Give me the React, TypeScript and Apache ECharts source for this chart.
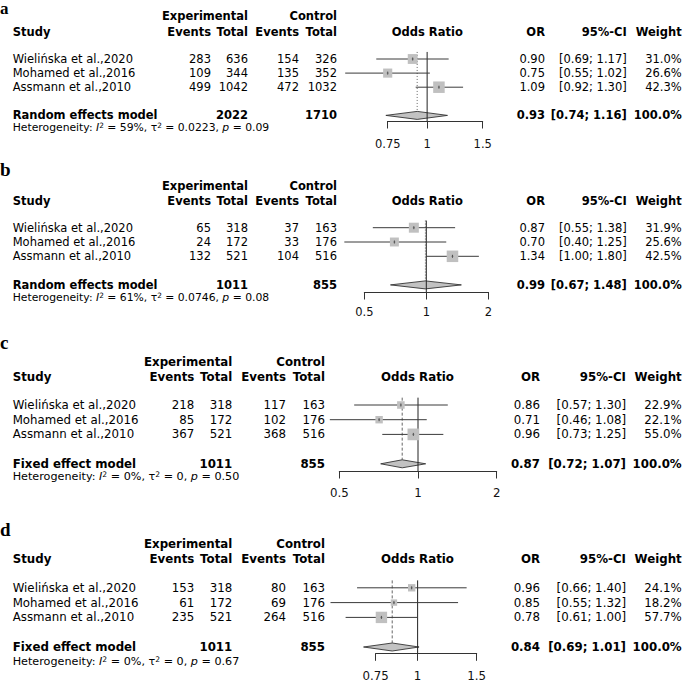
import React, { useEffect, useRef } from 'react';
import * as echarts from 'echarts';

// ---------------- data ----------------
const studies = ['Wielińska et al.,2020', 'Mohamed et al.,2016', 'Assmann et al.,2010'];
const panelLetters = ['a', 'b', 'c', 'd'];
const modelLabels = ['Random effects model', 'Random effects model', 'Fixed effect model', 'Fixed effect model'];
const expEvents = [[283, 109, 499], [65, 24, 132], [218, 85, 367], [153, 61, 235]];
const expTotal = [[636, 344, 1042], [318, 172, 521], [318, 172, 521], [318, 172, 521]];
const ctrlEvents = [[154, 135, 472], [37, 33, 104], [117, 102, 368], [80, 69, 264]];
const ctrlTotal = [[326, 352, 1032], [163, 176, 516], [163, 176, 516], [163, 176, 516]];
const oddsRatio = [[0.90, 0.75, 1.09], [0.87, 0.70, 1.34], [0.86, 0.71, 0.96], [0.96, 0.85, 0.78]];
const ciLower = [[0.69, 0.55, 0.92], [0.55, 0.40, 1.00], [0.57, 0.46, 0.73], [0.66, 0.55, 0.61]];
const ciUpper = [[1.17, 1.02, 1.30], [1.38, 1.25, 1.80], [1.30, 1.08, 1.25], [1.40, 1.32, 1.00]];
const weights = [[31.0, 26.6, 42.3], [31.9, 25.6, 42.5], [22.9, 22.1, 55.0], [24.1, 18.2, 57.7]];
const pooledOR = [0.93, 0.99, 0.87, 0.84];
const pooledLower = [0.74, 0.67, 0.72, 0.69];
const pooledUpper = [1.16, 1.48, 1.07, 1.01];
const totalExp = [2022, 1011, 1011, 1011];
const totalCtrl = [1710, 855, 855, 855];
const hetI2 = ['59%', '61%', '0%', '0%'];
const hetTau2 = ['0.0223', '0.0746', '0', '0'];
const hetP = ['0.09', '0.08', '0.50', '0.67'];
const tickValues = [[0.75, 1, 1.5], [0.5, 1, 2], [0.5, 1, 2], [0.75, 1, 1.5]];
const tickLabels = [['0.75', '1', '1.5'], ['0.5', '1', '2'], ['0.5', '1', '2'], ['0.75', '1', '1.5']];

// ---------------- layout (pixels) ----------------
const colsAB = { study: 12.7, expE: 211, expT: 248, ctrlE: 299, ctrlT: 337, orHead: 427.3, or: 545, ci: 626.7, w: 681.7 };
const colsCD = { study: 12.7, expE: 194.3, expT: 232.3, ctrlE: 286, ctrlT: 325, orHead: 417.5, or: 540, ci: 626, w: 681.7 };
const layouts = [
  { letterY: 8.5, head1: 16, head2: 31.7, rowTop: 59, step: 14.1, axisY: 121, hetY: 127.7, tickLabelY: 144, plotLeft: 387.7, plotWidth: 95, font: 11.5, hetFont: 10.8, cols: colsAB, squareK: 1.77, dash: [1, 2] },
  { letterY: 169.5, head1: 186, head2: 200.7, rowTop: 227.7, step: 14.3, axisY: 292, hetY: 297.7, tickLabelY: 312.3, plotLeft: 364.3, plotWidth: 124, font: 11.5, hetFont: 10.8, cols: colsAB, squareK: 1.77, dash: [1, 2] },
  { letterY: 342.5, head1: 361.7, head2: 376.7, rowTop: 405, step: 14.7, axisY: 471, hetY: 476.7, tickLabelY: 493.3, plotLeft: 339.3, plotWidth: 157.4, font: 11.8, hetFont: 11.2, cols: colsCD, squareK: 1.58, dash: [3, 2] },
  { letterY: 529.5, head1: 544, head2: 559.3, rowTop: 587.8, step: 14.8, axisY: 653.3, hetY: 661.7, tickLabelY: 676, plotLeft: 375.7, plotWidth: 101, font: 11.8, hetFont: 11.2, cols: colsCD, squareK: 1.5, dash: [3, 2] },
];

const FONT = '"DejaVu Sans", "Noto Sans", sans-serif';
const MODEL_ROW = 5;
const DIAMOND_HALF = 4;

function buildOption() {
  const grid: any[] = [];
  const xAxis: any[] = [];
  const yAxis: any[] = [];
  const series: any[] = [];
  const elements: any[] = [];

  const txt = (x: number, y: number, text: string, size: number, bold: boolean, align: string) => ({
    type: 'text',
    silent: true,
    style: {
      text, x, y, fill: '#000',
      fontSize: size, fontFamily: FONT, fontWeight: bold ? 'bold' : 'normal',
      lineHeight: size,
      align, verticalAlign: 'middle', textAlign: align, textVerticalAlign: 'middle',
    },
  });

  layouts.forEach((L, i) => {
    const gridTop = L.rowTop - L.step / 2;
    const gridHeight = L.axisY - gridTop;
    const yMax = 0.5 + gridHeight / L.step;
    const ticks = tickValues[i];
    const tickLn = ticks.map((t) => Math.log(t));
    const labels = tickLabels[i];

    grid.push({ left: L.plotLeft, top: gridTop, width: L.plotWidth, height: gridHeight, containLabel: false, outerBoundsMode: 'none' });
    xAxis.push({
      gridIndex: i,
      type: 'value',
      min: tickLn[0],
      max: tickLn[tickLn.length - 1],
      axisLine: { show: true, onZero: false, lineStyle: { color: '#333', width: 1 } },
      axisTick: { show: true, length: 7.5, customValues: tickLn, lineStyle: { color: '#333', width: 1 } },
      axisLabel: {
        show: true,
        customValues: tickLn,
        margin: L.tickLabelY - L.axisY - L.font / 2 - 0.5,
        fontSize: L.font,
        fontFamily: FONT,
        color: '#111',
        formatter: (v: number) => {
          let best = 0;
          tickLn.forEach((t, k) => { if (Math.abs(t - v) < Math.abs(tickLn[best] - v)) best = k; });
          return labels[best];
        },
      },
      splitLine: { show: false },
    });
    yAxis.push({ gridIndex: i, type: 'value', inverse: true, min: 0.5, max: yMax, show: false });

    // pooled diamond
    series.push({
      type: 'custom',
      xAxisIndex: i, yAxisIndex: i,
      clip: false,
      encode: { x: [0, 1, 2], y: 3 },
      data: [[Math.log(pooledOR[i]), Math.log(pooledLower[i]), Math.log(pooledUpper[i]), MODEL_ROW]],
      renderItem: (params: any, api: any) => {
        const c = api.coord([api.value(0), api.value(3)]);
        const lo = api.coord([api.value(1), api.value(3)]);
        const hi = api.coord([api.value(2), api.value(3)]);
        return {
          type: 'polygon',
          shape: { points: [[lo[0], c[1]], [c[0], c[1] - DIAMOND_HALF], [hi[0], c[1]], [c[0], c[1] + DIAMOND_HALF]] },
          style: { fill: '#C2C2C2', stroke: '#333', lineWidth: 0.9 },
        };
      },
    });

    // reference line at OR = 1 and pooled estimate line
    series.push({
      type: 'custom',
      xAxisIndex: i, yAxisIndex: i,
      clip: false,
      encode: { x: 0, y: [1, 2] },
      data: [[0, 0.5, yMax, 0], [Math.log(pooledOR[i]), 0.5, MODEL_ROW, 1]],
      renderItem: (params: any, api: any) => {
        const kind = api.value(3);
        const p1 = api.coord([api.value(0), api.value(1)]);
        const p2 = api.coord([api.value(0), api.value(2)]);
        if (kind === 0) {
          return { type: 'line', shape: { x1: p1[0], y1: p1[1], x2: p2[0], y2: p2[1] }, style: { stroke: '#222', lineWidth: 1 } };
        }
        return {
          type: 'line',
          shape: { x1: p1[0], y1: p1[1], x2: p2[0], y2: p2[1] - DIAMOND_HALF },
          style: { stroke: '#555', lineWidth: 0.9, lineDash: L.dash },
        };
      },
    });

    // studies: CI lines + weighted squares
    series.push({
      type: 'custom',
      xAxisIndex: i, yAxisIndex: i,
      clip: false,
      encode: { x: [0, 1, 2], y: 3 },
      data: studies.map((_, k) => [Math.log(oddsRatio[i][k]), Math.log(ciLower[i][k]), Math.log(ciUpper[i][k]), k + 1, weights[i][k]]),
      renderItem: (params: any, api: any) => {
        const c = api.coord([api.value(0), api.value(3)]);
        const lo = api.coord([api.value(1), api.value(3)]);
        const hi = api.coord([api.value(2), api.value(3)]);
        const s = L.squareK * Math.sqrt(api.value(4));
        return {
          type: 'group',
          children: [
            { type: 'line', shape: { x1: lo[0], y1: lo[1], x2: hi[0], y2: hi[1] }, style: { stroke: '#3a3a3a', lineWidth: 1 } },
            { type: 'rect', shape: { x: c[0] - s / 2, y: c[1] - s / 2, width: s, height: s }, style: { fill: '#C0C0C0' } },
            { type: 'line', shape: { x1: c[0], y1: c[1] - 1.5, x2: c[0], y2: c[1] + 1.5 }, style: { stroke: '#333', lineWidth: 0.8 } },
            { type: 'line', shape: { x1: c[0] - 1, y1: c[1], x2: c[0] + 1, y2: c[1] }, style: { stroke: '#555', lineWidth: 0.6 } },
          ],
        };
      },
    });

    // ---------------- table texts ----------------
    const C = L.cols;
    const f = L.font;
    const rowY = (r: number) => L.rowTop + (r - 1) * L.step;

    elements.push({
      type: 'text', silent: true,
      style: {
        text: panelLetters[i], x: 0, y: L.letterY, fill: '#000',
        fontSize: i === 0 ? 17 : 19, fontFamily: '"Liberation Serif", "DejaVu Serif", serif', fontWeight: 'bold',
        lineHeight: 9,
        align: 'left', verticalAlign: 'middle', textAlign: 'left', textVerticalAlign: 'middle',
      },
    });
    elements.push(txt(C.expT, L.head1, 'Experimental', f, true, 'right'));
    elements.push(txt(C.ctrlT, L.head1, 'Control', f, true, 'right'));
    elements.push(txt(C.study, L.head2, 'Study', f, true, 'left'));
    elements.push(txt(C.expE, L.head2, 'Events', f, true, 'right'));
    elements.push(txt(C.expT, L.head2, 'Total', f, true, 'right'));
    elements.push(txt(C.ctrlE, L.head2, 'Events', f, true, 'right'));
    elements.push(txt(C.ctrlT, L.head2, 'Total', f, true, 'right'));
    elements.push(txt(C.orHead, L.head2, 'Odds Ratio', f, true, 'center'));
    elements.push(txt(C.or, L.head2, 'OR', f, true, 'right'));
    elements.push(txt(C.ci, L.head2, '95%-CI', f, true, 'right'));
    elements.push(txt(C.w, L.head2, 'Weight', f, true, 'right'));

    studies.forEach((name, k) => {
      const y = rowY(k + 1);
      elements.push(txt(C.study, y, name, f, false, 'left'));
      elements.push(txt(C.expE, y, String(expEvents[i][k]), f, false, 'right'));
      elements.push(txt(C.expT, y, String(expTotal[i][k]), f, false, 'right'));
      elements.push(txt(C.ctrlE, y, String(ctrlEvents[i][k]), f, false, 'right'));
      elements.push(txt(C.ctrlT, y, String(ctrlTotal[i][k]), f, false, 'right'));
      elements.push(txt(C.or, y, oddsRatio[i][k].toFixed(2), f, false, 'right'));
      elements.push(txt(C.ci, y, `[${ciLower[i][k].toFixed(2)}; ${ciUpper[i][k].toFixed(2)}]`, f, false, 'right'));
      elements.push(txt(C.w, y, `${weights[i][k].toFixed(1)}%`, f, false, 'right'));
    });

    const my = rowY(MODEL_ROW);
    elements.push(txt(C.study, my, modelLabels[i], f, true, 'left'));
    elements.push(txt(C.expT, my, String(totalExp[i]), f, true, 'right'));
    elements.push(txt(C.ctrlT, my, String(totalCtrl[i]), f, true, 'right'));
    elements.push(txt(C.or, my, pooledOR[i].toFixed(2), f, true, 'right'));
    elements.push(txt(C.ci, my, `[${pooledLower[i].toFixed(2)}; ${pooledUpper[i].toFixed(2)}]`, f, true, 'right'));
    elements.push(txt(C.w, my, '100.0%', f, true, 'right'));

    const hf = L.hetFont;
    elements.push({
      type: 'text', silent: true,
      style: {
        text: `{n|Heterogeneity: }{i|I}{s|2}{n| = ${hetI2[i]}, τ}{s|2}{n| = ${hetTau2[i]}, }{i|p}{n| = ${hetP[i]}}`,
        x: C.study, y: L.hetY, fill: '#000',
        fontSize: hf, fontFamily: FONT,
        align: 'left', verticalAlign: 'middle', textAlign: 'left', textVerticalAlign: 'middle',
        rich: {
          n: { fontSize: hf, fontFamily: FONT, lineHeight: 11.5, fill: '#000' },
          i: { fontSize: hf, fontFamily: FONT, fontStyle: 'italic', lineHeight: 11.5, fill: '#000' },
          s: { fontSize: hf * 0.68, fontFamily: FONT, lineHeight: 5.5, verticalAlign: 'top', fill: '#000' },
        },
      },
    });
  });

  return {
    animation: false,
    backgroundColor: '#ffffff',
    grid, xAxis, yAxis, series,
    graphic: { elements },
  };
}

export default function App() {
  const ref = useRef<HTMLDivElement>(null);
  useEffect(() => {
    if (!ref.current) return;
    const chart = echarts.init(ref.current, undefined, { renderer: 'svg' });
    chart.setOption(buildOption() as any);
    return () => chart.dispose();
  }, []);
  return <div ref={ref} style={{ position: 'absolute', left: 0, top: 0, width: 685, height: 682 }} />;
}
